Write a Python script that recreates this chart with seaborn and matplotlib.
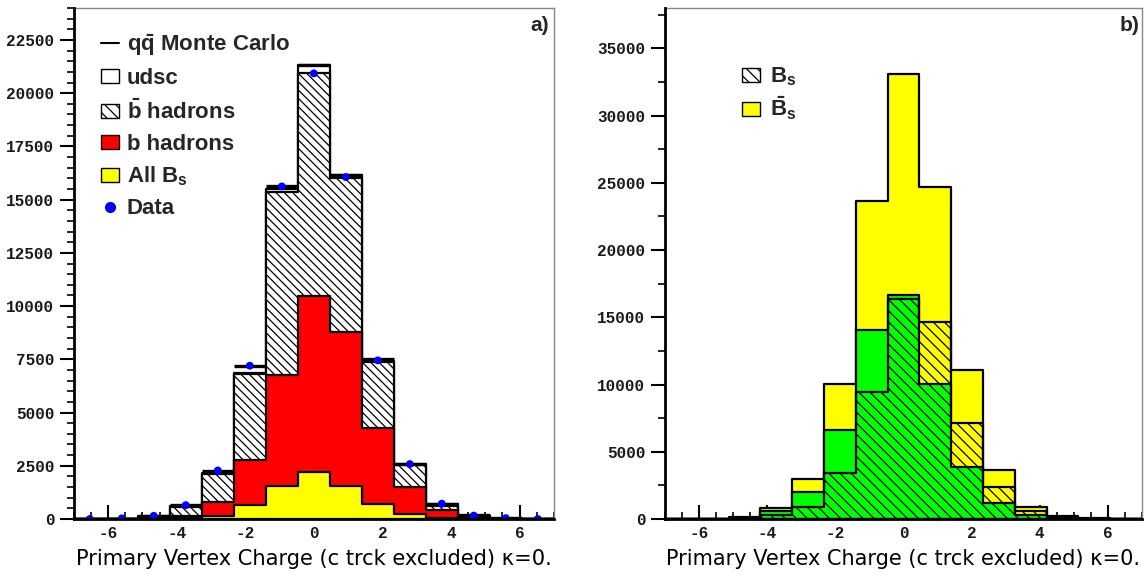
import numpy as np
import pandas as pd
import matplotlib
matplotlib.use("Agg")
import matplotlib.pyplot as plt
import seaborn as sns
from matplotlib.patches import Patch
from matplotlib.lines import Line2D
from matplotlib.ticker import MultipleLocator

# ---------------- data ----------------
x_range = (-7, 7)
n_bins = 15
bin_edges = np.linspace(x_range[0], x_range[1], n_bins + 1)
bin_centers = 0.5 * (bin_edges[:-1] + bin_edges[1:])

# panel a)
qq_monte_carlo = [0, 20, 150, 650, 2270, 7190, 15650, 21335, 16150, 7500, 2600, 720, 170, 30, 0]
udsc_top = [0, 20, 140, 600, 2150, 6860, 15500, 21335, 16150, 7440, 2570, 700, 160, 20, 0]
bbar_hadrons_top = [0, 10, 110, 560, 2130, 6830, 15350, 20970, 16010, 7380, 2540, 600, 140, 15, 0]
b_hadrons_top = [0, 5, 50, 150, 780, 2780, 6740, 10480, 8760, 4270, 1520, 400, 90, 10, 0]
all_bs = [0, 2, 15, 50, 160, 660, 1530, 2220, 1540, 700, 230, 40, 10, 2, 0]
data_points = [0, 30, 150, 650, 2280, 7200, 15620, 20930, 16060, 7450, 2580, 720, 160, 40, 0]

# panel b)
bs_total = [0, 10, 150, 800, 3000, 10050, 23630, 33060, 24690, 11060, 3620, 920, 200, 40, 0]
bs_green = [0, 5, 80, 620, 2030, 6620, 14080, 16630, 10040, 3900, 1160, 300, 60, 10, 0]
bs_hatched = [0, 5, 60, 300, 880, 3390, 9470, 16360, 14630, 7110, 2380, 620, 150, 20, 0]

xticks_major = [-6, -4, -2, 0, 2, 4, 6]
yticks_left = [0, 2500, 5000, 7500, 10000, 12500, 15000, 17500, 20000, 22500]
yticks_right = [0, 5000, 10000, 15000, 20000, 25000, 30000, 35000]
xlabel_text = "Primary Vertex Charge (c trck excluded) \u03ba=0."

# ---------------- style ----------------
sns.set_theme(style="ticks")
plt.rcParams.update({
    "font.family": ["Liberation Sans", "DejaVu Sans"],
    "axes.unicode_minus": False,
    "mathtext.fontset": "custom",
    "mathtext.rm": "Liberation Sans:bold",
    "mathtext.it": "Liberation Sans:bold",
    "mathtext.bf": "Liberation Sans:bold",
    "hatch.linewidth": 0.9,
})

W, H = 1145, 578
fig = plt.figure(figsize=(W / 100, H / 100), dpi=100)
axL = fig.add_axes([73.8 / W, 59 / H, 480 / W, 511 / H])
axR = fig.add_axes([665 / W, 59 / H, 477 / W, 511 / H])

EDGE_LW = 1.6
HATCH_L = "\\\\\\\\"
HATCH_R = "\\\\\\"


def layer(ax, vals, color, **kw):
    df = pd.DataFrame({"charge": bin_centers, "count": np.asarray(vals, dtype=float)})
    sns.histplot(data=df, x="charge", weights="count", bins=n_bins, binrange=x_range,
                 element="step", fill=True, ax=ax, alpha=1, linewidth=EDGE_LW,
                 color=color, edgecolor="black", **kw)


# panel a) layers
layer(axL, udsc_top, "white", facecolor="white")
layer(axL, bbar_hadrons_top, "white", facecolor="white", hatch=HATCH_L)
layer(axL, b_hadrons_top, "#ff0000", facecolor="#ff0000")
layer(axL, all_bs, "#ffff00", facecolor="#ffff00")
mc = np.array(qq_monte_carlo, dtype=float)
sel = mc > 0
axL.hlines(mc[sel], bin_edges[:-1][sel], bin_edges[1:][sel], colors="black",
           linewidth=2.4, zorder=4)
sns.scatterplot(x=bin_centers, y=data_points, ax=axL, color="#0000ff", s=32,
                edgecolor="none", zorder=5)

# panel b) layers
layer(axR, bs_total, "#ffff00", facecolor="#ffff00")
layer(axR, bs_green, "#00ff00", facecolor="#00ff00")
layer(axR, bs_hatched, "black", facecolor="none", hatch=HATCH_R)

tick_font = {"family": "Liberation Mono", "weight": "bold", "size": 11.5}

for ax, ymax, yt, yminor in [(axL, 24000, yticks_left, 500), (axR, 38000, yticks_right, 2500)]:
    ax.set_xlim(*x_range)
    ax.set_ylim(0, ymax)
    ax.set_xticks(xticks_major)
    ax.set_yticks(yt)
    ax.xaxis.set_minor_locator(MultipleLocator(0.5))
    ax.yaxis.set_minor_locator(MultipleLocator(yminor))
    ax.tick_params(axis="x", which="major", direction="in", length=10, width=1.5,
                   color="black", pad=5)
    ax.tick_params(axis="x", which="minor", direction="in", length=5, width=1.2,
                   color="black")
    ax.tick_params(axis="y", which="major", direction="out", length=10, width=1.5,
                   color="black", pad=4)
    ax.tick_params(axis="y", which="minor", direction="out", length=5, width=1.2,
                   color="black")
    for lab in ax.get_xticklabels() + ax.get_yticklabels():
        lab.set_fontproperties(tick_font)
        lab.set_color("#1a1a1a")
    for s in ["left", "bottom"]:
        ax.spines[s].set_color("black")
        ax.spines[s].set_linewidth(2.0)
        ax.spines[s].set_zorder(6)
    for s in ["top", "right"]:
        ax.spines[s].set_color("#888888")
        ax.spines[s].set_linewidth(1.0)
        ax.spines[s].set_visible(True)
    ax.set_ylabel("")
    ax.set_xlabel(xlabel_text, fontfamily="DejaVu Sans", fontsize=14, color="black",
                  labelpad=6)
    ax.grid(False)

axL.text(0.99, 0.985, "a)", transform=axL.transAxes, ha="right", va="top",
         fontsize=15, fontweight="bold")
axR.text(0.995, 0.985, "b)", transform=axR.transAxes, ha="right", va="top",
         fontsize=15, fontweight="bold")

leg_font = {"family": "Liberation Sans", "weight": "bold", "size": 16}
handlesL = [
    Line2D([0], [0], color="black", lw=1.5),
    Patch(facecolor="white", edgecolor="black", lw=1.0),
    Patch(facecolor="white", edgecolor="black", lw=1.0, hatch="\\\\\\"),
    Patch(facecolor="#ff0000", edgecolor="black", lw=1.0),
    Patch(facecolor="#ffff00", edgecolor="black", lw=1.0),
    Line2D([0], [0], marker="o", color="#0000ff", ls="none", ms=7),
]
labelsL = [r"$\mathrm{q\bar{q}}$ Monte Carlo", "udsc", r"$\mathrm{\bar{b}}$ hadrons",
           "b hadrons", r"All $\mathrm{B_s}$", "Data"]
legL = axL.legend(handlesL, labelsL, loc="upper left", bbox_to_anchor=(0.048, 0.962),
                  frameon=False, prop=leg_font, handlelength=0.8, handleheight=0.6,
                  handletextpad=0.35, labelspacing=0.45, borderaxespad=0, borderpad=0.2)

handlesR = [
    Patch(facecolor="white", edgecolor="black", lw=1.0, hatch="\\\\\\"),
    Patch(facecolor="#ffff00", edgecolor="black", lw=1.0),
]
labelsR = [r"$\mathrm{B_s}$", r"$\mathrm{\bar{B}_s}$"]
legR = axR.legend(handlesR, labelsR, loc="upper left", bbox_to_anchor=(0.153, 0.896),
                  frameon=False, prop=leg_font, handlelength=0.8, handleheight=0.6,
                  handletextpad=0.45, labelspacing=0.3, borderaxespad=0, borderpad=0.2)

# fit x label width to the axes width
fig.canvas.draw()
r = fig.canvas.get_renderer()
for ax in (axL, axR):
    lab = ax.xaxis.label
    w = lab.get_window_extent(r).width
    axw = ax.get_window_extent(r).width
    lab.set_fontsize(14 * axw / w * 0.995)

fig.savefig("out.png", dpi=100)
